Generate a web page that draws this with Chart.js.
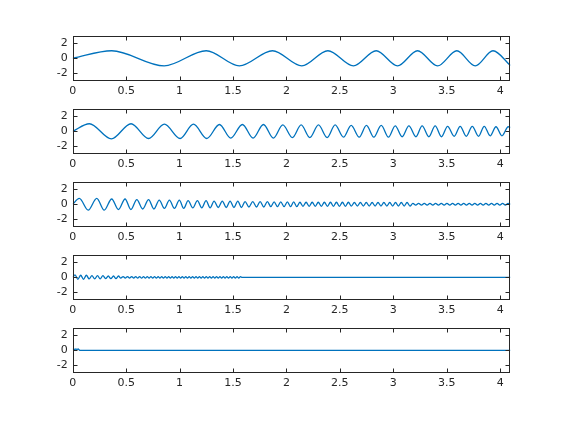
<!DOCTYPE html>
<html>
<head>
<meta charset="utf-8">
<script src="https://cdn.jsdelivr.net/npm/chart.js@4/dist/chart.umd.min.js"></script>
<style>
html,body{margin:0;padding:0;background:#fff;}
#fig{position:relative;width:564px;height:423px;overflow:hidden;}
#fig canvas{position:absolute;left:0;}
</style>
</head>
<body>
<div id="fig"></div>
<script>
// axis ticks (same for every panel)
const xTicks = [0, 0.5, 1, 1.5, 2, 2.5, 3, 3.5, 4];
const yTicks = [-2, 0, 2];
const xMax = 4.096;

// panel 1: extremum times (peak, trough, peak ...)
const p1Ext = [0.365, 0.856, 1.25, 1.56, 1.87, 2.144, 2.388, 2.627, 2.84, 3.04, 3.227, 3.414, 3.595, 3.767, 3.933];
const p1EnvT = [0];
const p1EnvA = [1];
const p1Head = [[0, 0]];
const p1Tail = [[4.096, -0.95]];

// panel 2
const p2Ext = [0.156, 0.362, 0.546, 0.71, 0.858, 1.005, 1.13, 1.255, 1.373, 1.479, 1.588, 1.688, 1.785, 1.878,
  1.966, 2.056, 2.138, 2.219, 2.30, 2.381, 2.456, 2.534, 2.606, 2.681, 2.749, 2.818, 2.887, 2.955, 3.018, 3.083,
  3.146, 3.212, 3.27, 3.333, 3.392, 3.451, 3.508, 3.57, 3.626, 3.683, 3.739, 3.798, 3.851, 3.907, 3.961, 4.017, 4.076];
const p2EnvT = [0, 0.7, 1.3, 1.9, 2.5, 3.0, 3.5, 3.9];
const p2EnvA = [1.0, 0.95, 0.9, 0.84, 0.78, 0.72, 0.66, 0.6];
const p2Head = [[0, 0]];
const p2Tail = [[4.096, 0.5]];

// panel 3
const p3Ext = [0.062, 0.145, 0.225, 0.295, 0.365, 0.428, 0.49, 0.545, 0.60, 0.655, 0.71, 0.76, 0.81, 0.858, 0.905,
  0.952, 0.998, 1.039, 1.08, 1.124, 1.167, 1.208, 1.248, 1.286, 1.323, 1.362, 1.40, 1.437, 1.473, 1.509, 1.545,
  1.579, 1.613, 1.649, 1.685, 1.72, 1.754, 1.788, 1.822, 1.854, 1.885, 1.916, 1.947, 1.978, 2.009, 2.039, 2.068,
  2.097, 2.126, 2.155, 2.184, 2.213, 2.241, 2.27, 2.298, 2.327, 2.355, 2.384, 2.412, 2.44, 2.468, 2.496, 2.524,
  2.552, 2.58, 2.608, 2.636, 2.664, 2.692, 2.72, 2.747, 2.775, 2.802, 2.83, 2.857, 2.885, 2.912, 2.94, 2.967,
  2.994, 3.021, 3.048, 3.075, 3.102, 3.129, 3.156, 3.183, 3.21, 3.237, 3.264, 3.29, 3.317, 3.343, 3.37, 3.396,
  3.423, 3.449, 3.476, 3.502, 3.529, 3.555, 3.581, 3.607, 3.633, 3.659, 3.685, 3.711, 3.737, 3.763, 3.789, 3.815,
  3.841, 3.867, 3.893, 3.919, 3.945, 3.971, 3.997, 4.023, 4.049, 4.075];
const p3EnvT = [0, 0.3, 0.55, 0.8, 1.05, 1.3, 1.6, 1.85, 2.1, 2.6, 3.17];
const p3EnvA = [0.78, 0.7, 0.62, 0.55, 0.48, 0.42, 0.36, 0.31, 0.27, 0.24, 0.12];
const p3Head = [[0, 0]];
const p3Tail = [[4.096, 0]];

// panel 4
const p4Ext = [0.022, 0.048, 0.075, 0.101, 0.128, 0.154, 0.18, 0.206, 0.232, 0.257, 0.283, 0.308, 0.333, 0.357,
  0.382, 0.405, 0.428, 0.45, 0.472, 0.492, 0.513, 0.532, 0.552, 0.571, 0.59, 0.608, 0.627, 0.645, 0.663, 0.68,
  0.698, 0.715, 0.732, 0.749, 0.766, 0.783, 0.8, 0.816, 0.833, 0.849, 0.866, 0.882, 0.898, 0.914, 0.93, 0.946,
  0.962, 0.978, 0.994, 1.01, 1.026, 1.042, 1.058, 1.074, 1.09, 1.106, 1.122, 1.138, 1.154, 1.17, 1.186, 1.202,
  1.218, 1.234, 1.25, 1.266, 1.282, 1.298, 1.314, 1.33, 1.346, 1.362, 1.378, 1.394, 1.41, 1.426, 1.442, 1.458,
  1.474, 1.49, 1.506, 1.522, 1.538, 1.554, 1.57];
const p4EnvT = [0, 0.04, 0.15, 0.3, 0.45];
const p4EnvA = [0.33, 0.27, 0.22, 0.17, 0.1];
const p4Head = [[0, 0]];
const p4Tail = [[1.585, 0], [4.096, 0]];

// panel 5: tiny blip just above zero at the very start
const p5Ext = [0.01, 0.02, 0.03, 0.04, 0.05];
const p5EnvT = [0];
const p5EnvA = [0.03];
const p5Head = [[0, 0.14]];
const p5Tail = [[0.058, 0.12], [0.065, 0], [4.096, 0]];

const panels = [
  [p1Ext, p1EnvT, p1EnvA, p1Head, p1Tail],
  [p2Ext, p2EnvT, p2EnvA, p2Head, p2Tail],
  [p3Ext, p3EnvT, p3EnvA, p3Head, p3Tail],
  [p4Ext, p4EnvT, p4EnvA, p4Head, p4Tail],
  [p5Ext, p5EnvT, p5EnvA, p5Head, p5Tail]
];

function envAt(envT, envA, t){
  let a = envA[0];
  for (let i = 0; i < envT.length; i++) if (t >= envT[i]) a = envA[i];
  return a;
}

// panel 5 blip sits just above zero, so its extrema are offsets around 0.14
function wave(ext, envT, envA, head, tail, base){
  const pts = head.map(p => ({x: p[0], y: p[1]}));
  ext.forEach((t, i) => pts.push({x: t, y: base + (i % 2 ? -1 : 1) * envAt(envT, envA, t)}));
  tail.forEach(p => pts.push({x: p[0], y: p[1]}));
  return pts;
}

const PAD_TOP = 8, AX_H = 49, X_AXIS_H = 20, TICK = 4;
const boxTops = [32, 105, 178, 251, 324];
const AX_LEFT = 72.7, AX_RIGHT = 510.4;
const W = 564;
const txt = '#262626';
const font = {family: 'DejaVu Sans', size: 11};

const boxPlugin = {
  id: 'matlabBox',
  afterDraw(chart){
    const {ctx, chartArea: a, scales} = chart;
    const L = Math.round(a.left) + 0.5, R = Math.round(a.right) - 0.5;
    const T = Math.round(a.top) + 0.5, B = Math.round(a.bottom) - 0.5;
    ctx.save();
    ctx.strokeStyle = txt;
    ctx.lineWidth = 1;
    ctx.strokeRect(L, T, R - L, B - T);
    ctx.beginPath();
    scales.x.ticks.forEach(t => {
      const px = Math.round(scales.x.getPixelForValue(t.value)) + 0.5;
      ctx.moveTo(px, B); ctx.lineTo(px, B - TICK);
      ctx.moveTo(px, T); ctx.lineTo(px, T + TICK);
    });
    scales.y.ticks.forEach(t => {
      const py = Math.round(scales.y.getPixelForValue(t.value)) + 0.5;
      ctx.moveTo(L, py); ctx.lineTo(L + TICK, py);
      ctx.moveTo(R, py); ctx.lineTo(R - TICK, py);
    });
    ctx.stroke();
    ctx.restore();
  }
};

const fig = document.getElementById('fig');
panels.forEach((p, k) => {
  const cv = document.createElement('canvas');
  cv.width = W;
  cv.height = PAD_TOP + AX_H + X_AXIS_H;
  cv.style.top = (boxTops[k] - PAD_TOP) + 'px';
  fig.appendChild(cv);
  const base = k === 4 ? 0.14 : 0;
  new Chart(cv, {
    type: 'line',
    data: {datasets: [{
      data: wave(p[0], p[1], p[2], p[3], p[4], base),
      borderColor: '#0072BD',
      borderWidth: 1.3,
      pointRadius: 0,
      cubicInterpolationMode: 'monotone',
      fill: false
    }]},
    options: {
      responsive: false,
      animation: false,
      devicePixelRatio: 1,
      events: [],
      layout: {padding: {top: PAD_TOP, left: 0, right: W - AX_RIGHT, bottom: 0}},
      plugins: {legend: {display: false}, tooltip: {enabled: false}},
      scales: {
        x: {
          type: 'linear', min: 0, max: xMax,
          afterBuildTicks: s => { s.ticks = xTicks.map(v => ({value: v})); },
          afterFit: s => { s.height = X_AXIS_H; },
          grid: {display: false, drawTicks: false},
          border: {display: false},
          ticks: {padding: 4, color: txt, font: font, maxRotation: 0, autoSkip: false, callback: v => String(v)}
        },
        y: {
          type: 'linear', min: -3, max: 3,
          afterBuildTicks: s => { s.ticks = yTicks.map(v => ({value: v})); },
          afterFit: s => { s.width = AX_LEFT; },
          grid: {display: false, drawTicks: false},
          border: {display: false},
          ticks: {padding: 5, color: txt, font: font, callback: v => String(v)}
        }
      }
    },
    plugins: [boxPlugin]
  });
});
</script>
</body>
</html>
